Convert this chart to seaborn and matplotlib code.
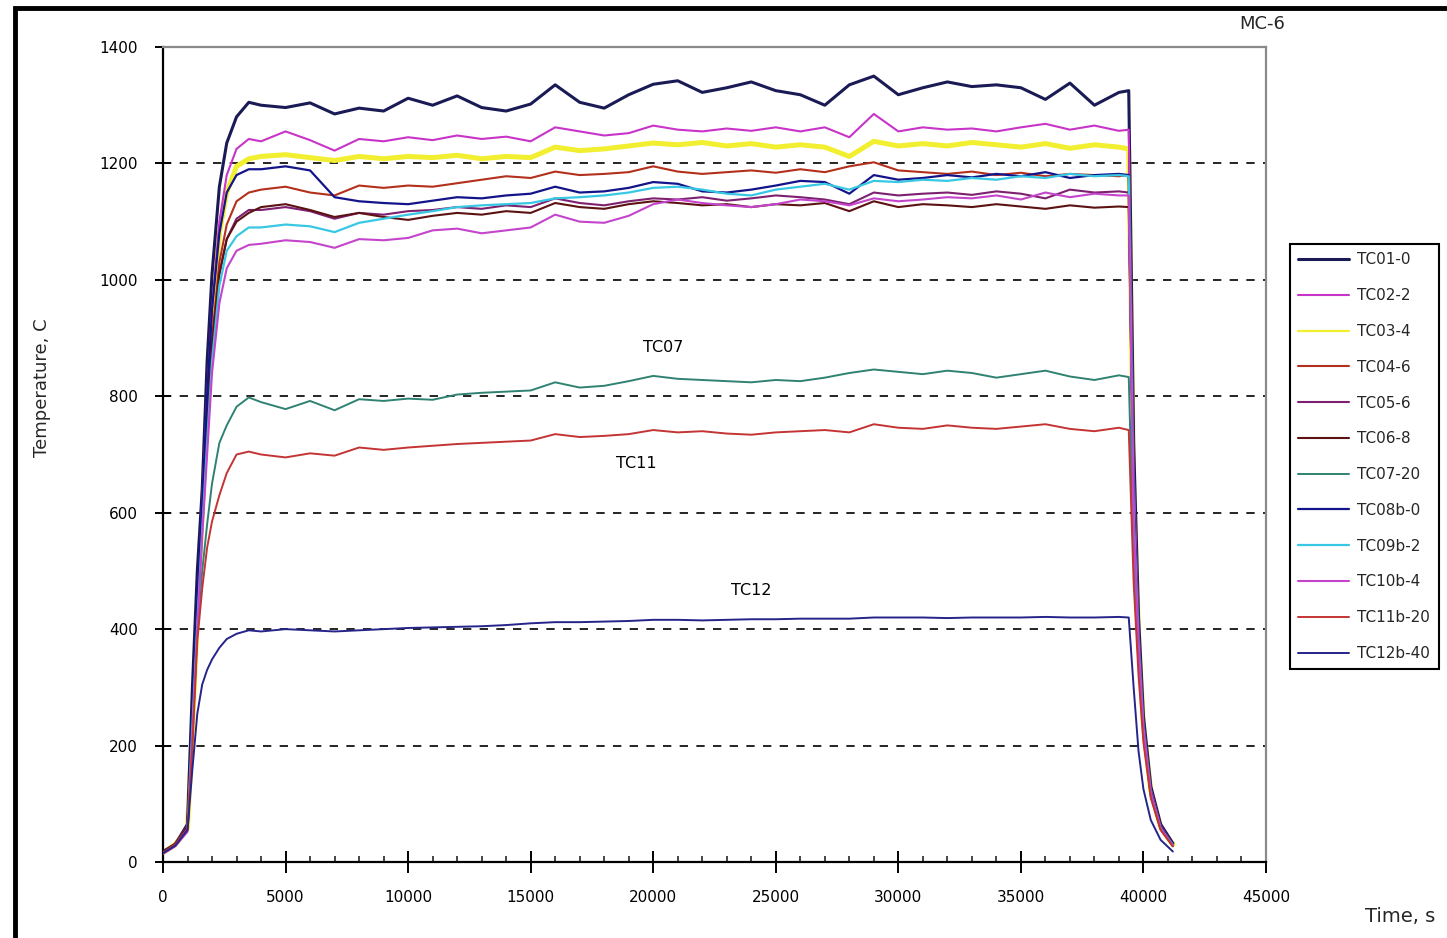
import numpy as np
import pandas as pd
import matplotlib
matplotlib.use("Agg")
import matplotlib.pyplot as plt
import seaborn as sns
from matplotlib.lines import Line2D
from matplotlib.patches import Rectangle
from matplotlib.ticker import MultipleLocator

sns.set_theme(style="white")
plt.rcParams['font.family'] = ['DejaVu Sans']

# ---------------- data ----------------
time_s = [0, 500, 1000, 1200, 1400, 1600, 1800, 2000, 2300, 2600, 3000, 3500,
          4000, 5000, 6000, 7000, 8000, 9000, 10000, 11000, 12000, 13000, 14000, 15000,
          16000, 17000, 18000, 19000, 20000, 21000, 22000, 23000, 24000, 25000, 26000, 27000,
          28000, 29000, 30000, 31000, 32000, 33000, 34000, 35000, 36000, 37000, 38000, 39000,
          39400, 39600, 39800, 40000, 40300, 40700, 41200]

tc01 = [18, 30, 65, 300, 500, 640, 860, 1010, 1160, 1235, 1280, 1305,
        1300, 1296, 1304, 1285, 1295, 1290, 1312, 1300, 1316, 1296, 1290, 1302,
        1335, 1305, 1295, 1318, 1336, 1342, 1322, 1330, 1340, 1325, 1318, 1300,
        1335, 1350, 1318, 1330, 1340, 1332, 1335, 1330, 1310, 1338, 1300, 1322,
        1325, 720, 420, 250, 130, 65, 32]
tc02 = [15, 28, 55, 240, 430, 620, 800, 950, 1100, 1180, 1225, 1242,
        1238, 1255, 1240, 1222, 1242, 1238, 1245, 1240, 1248, 1242, 1246, 1238,
        1262, 1255, 1248, 1252, 1265, 1258, 1255, 1260, 1256, 1262, 1255, 1262,
        1245, 1285, 1255, 1262, 1258, 1260, 1255, 1262, 1268, 1258, 1265, 1256,
        1258, 680, 400, 240, 125, 62, 30]
tc03 = [16, 30, 58, 230, 420, 600, 790, 930, 1080, 1150, 1195, 1208,
        1212, 1215, 1210, 1205, 1212, 1208, 1212, 1210, 1214, 1208, 1212, 1210,
        1228, 1222, 1225, 1230, 1235, 1232, 1236, 1230, 1234, 1228, 1232, 1228,
        1212, 1238, 1230, 1234, 1230, 1236, 1232, 1228, 1234, 1226, 1232, 1228,
        1225, 650, 390, 235, 122, 60, 30]
tc04 = [17, 32, 62, 250, 440, 600, 770, 900, 1030, 1095, 1135, 1150,
        1155, 1160, 1150, 1145, 1162, 1158, 1162, 1160, 1166, 1172, 1178, 1175,
        1186, 1180, 1182, 1185, 1195, 1186, 1182, 1185, 1188, 1184, 1190, 1185,
        1195, 1202, 1188, 1185, 1182, 1186, 1180, 1184, 1178, 1182, 1180, 1178,
        1180, 620, 380, 230, 120, 60, 29]
tc05 = [16, 30, 58, 240, 420, 580, 740, 880, 1010, 1070, 1105, 1120,
        1120, 1125, 1118, 1105, 1115, 1112, 1118, 1120, 1125, 1122, 1128, 1125,
        1140, 1132, 1128, 1135, 1140, 1138, 1142, 1136, 1140, 1145, 1142, 1138,
        1130, 1150, 1145, 1148, 1150, 1146, 1152, 1148, 1140, 1155, 1150, 1152,
        1150, 600, 370, 225, 118, 58, 28]
tc06 = [17, 31, 60, 245, 430, 590, 750, 890, 1010, 1070, 1100, 1115,
        1125, 1130, 1120, 1108, 1115, 1108, 1103, 1110, 1115, 1112, 1118, 1115,
        1132, 1125, 1122, 1130, 1135, 1132, 1128, 1130, 1125, 1130, 1128, 1132,
        1118, 1135, 1125, 1130, 1128, 1125, 1130, 1126, 1122, 1128, 1124, 1126,
        1125, 600, 365, 222, 116, 57, 28]
tc07 = [15, 28, 55, 210, 400, 500, 580, 650, 720, 750, 782, 798,
        790, 778, 792, 776, 795, 792, 796, 794, 803, 806, 808, 810,
        824, 815, 818, 826, 835, 830, 828, 826, 824, 828, 826, 832,
        840, 846, 842, 838, 844, 840, 832, 838, 844, 834, 828, 836,
        833, 520, 340, 215, 112, 56, 27]
tc08 = [16, 30, 60, 260, 450, 620, 800, 950, 1080, 1150, 1180, 1190,
        1190, 1195, 1188, 1142, 1135, 1132, 1130, 1136, 1142, 1140, 1145, 1148,
        1160, 1150, 1152, 1158, 1168, 1165, 1152, 1150, 1155, 1162, 1170, 1168,
        1148, 1180, 1172, 1175, 1180, 1176, 1182, 1178, 1185, 1175, 1180, 1182,
        1180, 620, 380, 230, 120, 60, 30]
tc09 = [15, 29, 56, 235, 410, 570, 720, 860, 990, 1050, 1075, 1090,
        1090, 1095, 1092, 1082, 1098, 1105, 1112, 1118, 1125, 1128, 1130, 1132,
        1140, 1142, 1145, 1150, 1158, 1160, 1155, 1148, 1145, 1155, 1160, 1165,
        1155, 1170, 1168, 1172, 1170, 1175, 1172, 1178, 1175, 1182, 1178, 1180,
        1178, 600, 375, 228, 118, 58, 29]
tc10 = [14, 27, 52, 220, 400, 560, 700, 840, 960, 1020, 1050, 1060,
        1062, 1068, 1065, 1055, 1070, 1068, 1072, 1085, 1088, 1080, 1085, 1090,
        1112, 1100, 1098, 1110, 1130, 1138, 1132, 1128, 1125, 1130, 1138, 1135,
        1128, 1140, 1135, 1138, 1142, 1140, 1145, 1138, 1150, 1142, 1148, 1145,
        1145, 590, 370, 225, 118, 58, 28]
tc11 = [16, 30, 58, 200, 380, 470, 540, 585, 630, 668, 700, 705,
        700, 695, 702, 698, 712, 708, 712, 715, 718, 720, 722, 724,
        735, 730, 732, 735, 742, 738, 740, 736, 734, 738, 740, 742,
        738, 752, 746, 744, 750, 746, 744, 748, 752, 744, 740, 746,
        742, 480, 320, 205, 110, 55, 27]
tc12 = [15, 28, 55, 160, 255, 305, 330, 348, 368, 383, 392, 398,
        396, 400, 398, 396, 398, 400, 402, 403, 404, 405, 407, 410,
        412, 412, 413, 414, 416, 416, 415, 416, 417, 417, 418, 418,
        418, 420, 420, 420, 419, 420, 420, 420, 421, 420, 420, 421,
        420, 300, 190, 125, 72, 38, 18]

sensor_names = ["TC01-0", "TC02-2", "TC03-4", "TC04-6", "TC05-6", "TC06-8",
                "TC07-20", "TC08b-0", "TC09b-2", "TC10b-4", "TC11b-20", "TC12b-40"]
sensor_values = [tc01, tc02, tc03, tc04, tc05, tc06, tc07, tc08, tc09, tc10, tc11, tc12]
sensor_colors = ["#1a1a55", "#c834c8", "#f2ee30", "#b3301c", "#7e2070", "#5c1212",
                 "#2f8272", "#14148a", "#38c8e4", "#c444cc", "#c43434", "#24248a"]
line_widths = [2.2, 1.5, 3.6, 1.5, 1.5, 1.5, 1.4, 1.6, 1.6, 1.5, 1.4, 1.4]

curve_labels = ["TC07", "TC11", "TC12"]
curve_label_t = [20400, 19300, 24000]
curve_label_T = [883, 685, 467]

df = pd.DataFrame({
    "Time": np.tile(time_s, len(sensor_names)),
    "Temp": np.concatenate(sensor_values),
    "Sensor": np.repeat(sensor_names, len(time_s)),
})
palette = dict(zip(sensor_names, sensor_colors))

# ---------------- figure ----------------
W, H = 1447, 938
fig = plt.figure(figsize=(W / 100, H / 100), dpi=100)
fig.patch.set_facecolor("white")
ax = fig.add_axes([163 / W, 1 - 862 / H, (1266 - 163) / W, (862 - 47) / H])

for y in range(200, 1400, 200):
    ax.axhline(y, color="black", lw=1.2, ls=(0, (5, 5)), zorder=1)

sns.lineplot(data=df, x="Time", y="Temp", hue="Sensor", hue_order=sensor_names,
             palette=palette, estimator=None, sort=False, legend=False, ax=ax, zorder=3)

for line, lw, name in zip(ax.lines[-len(sensor_names):], line_widths, sensor_names):
    line.set_linewidth(lw)
    if name == "TC03-4":
        line.set_zorder(2)

ax.set_xlim(0, 45000)
ax.set_ylim(0, 1400)
ax.xaxis.set_major_locator(MultipleLocator(5000))
ax.xaxis.set_minor_locator(MultipleLocator(1000))
ax.yaxis.set_major_locator(MultipleLocator(200))
ax.set_xlabel("")
ax.set_ylabel("")

for s in ["left", "bottom"]:
    ax.spines[s].set_color("black")
    ax.spines[s].set_linewidth(1.6)
for s in ["top", "right"]:
    ax.spines[s].set_color("#8a8a8a")
    ax.spines[s].set_linewidth(1.6)

ax.tick_params(axis="x", which="major", direction="inout", length=16, width=1.4,
               pad=12, labelsize=11, colors="black", bottom=True)
ax.tick_params(axis="x", which="minor", direction="in", length=4, width=1.2, bottom=True)
ax.tick_params(axis="y", which="major", direction="inout", length=12, width=1.4,
               pad=12, labelsize=11, colors="black", left=True)

for name, t, T in zip(curve_labels, curve_label_t, curve_label_T):
    ax.text(t, T, name, ha="center", va="center", fontsize=11.5, color="black", zorder=5)

handles = [Line2D([], [], color=c, lw=(1.6 if lw > 2.5 else lw)) for c, lw in zip(sensor_colors, line_widths)]
leg = fig.legend(handles, sensor_names, loc="upper left",
                 bbox_to_anchor=(1290 / W, 1 - 244 / H), bbox_transform=fig.transFigure,
                 fontsize=11, frameon=True, fancybox=False, framealpha=1,
                 edgecolor="black", borderpad=0.55, borderaxespad=0,
                 handlelength=3.3, handletextpad=0.55, labelspacing=1.36)
leg.get_frame().set_linewidth(1.5)

fig.text(42 / W, 1 - 388 / H, "Temperature, C", rotation=90, ha="center", va="center", fontsize=13)
fig.text(1400 / W, 1 - 916 / H, "Time, s", ha="center", va="center", fontsize=14)
fig.text(1262 / W, 1 - 24 / H, "MC-6", ha="center", va="center", fontsize=13)

frame = Rectangle((15 / W, -0.05), 1.05, (1 - 8 / H) + 0.05, transform=fig.transFigure,
                  fill=False, edgecolor="black", lw=3.5, zorder=10)
fig.patches.append(frame)

fig.savefig("out.png", dpi=100, facecolor="white")
